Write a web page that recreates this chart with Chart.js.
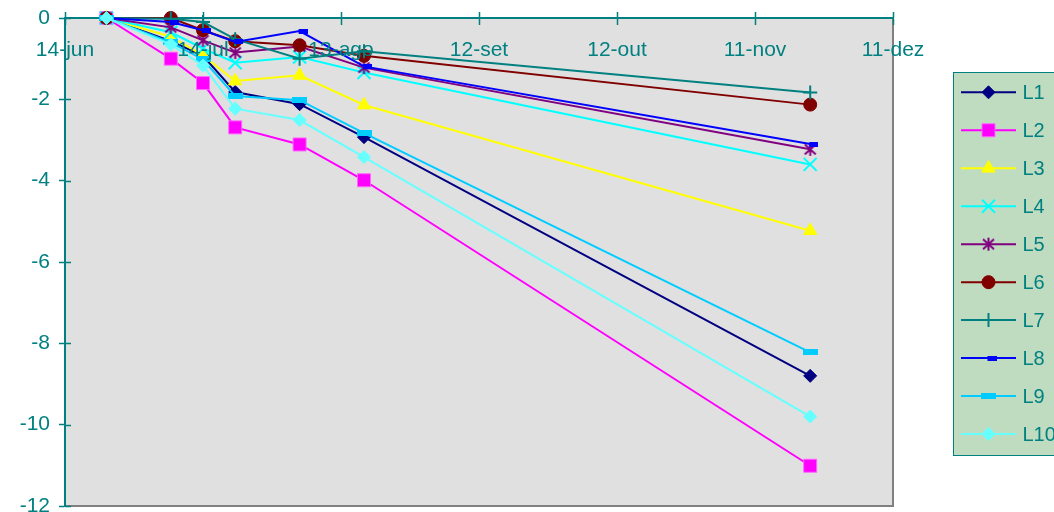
<!DOCTYPE html>
<html>
<head>
<meta charset="utf-8">
<script src="https://cdn.jsdelivr.net/npm/chart.js@4/dist/chart.umd.min.js"></script>
<style>
  html, body { margin: 0; padding: 0; background: #ffffff; overflow: hidden; }
  #wrap { position: relative; width: 1054px; height: 512px; }
</style>
</head>
<body>
<div id="wrap"><canvas id="c" width="1054" height="512"></canvas></div>
<script>
// Date axis: days counted from 14-jun, one labelled tick every 30 days
const tickLabels = ['14-jun', '14-jul', '13-ago', '12-set', '12-out', '11-nov', '11-dez'];
const tickStepDays = 30;

// Sampling dates (days after 14-jun)
const sampleDay = [9, 23, 30, 37, 51, 65, 162];

const seriesNames = ['L1', 'L2', 'L3', 'L4', 'L5', 'L6', 'L7', 'L8', 'L9', 'L10'];

const L1  = [0, -0.57, -0.93, -1.82, -2.12, -2.93, -8.80];
const L2  = [0, -1.00, -1.60, -2.69, -3.11, -3.99, -11.01];
const L3  = [0, -0.46, -0.92, -1.55, -1.41, -2.14, -5.23];
const L4  = [0, -0.35, -0.75, -1.10, -0.96, -1.34, -3.60];
const L5  = [0, -0.23, -0.55, -0.85, -0.70, -1.22, -3.23];
const L6  = [0, 0.00, -0.30, -0.57, -0.67, -0.93, -2.13];
const L7  = [0, -0.02, -0.10, -0.52, -1.00, -0.82, -1.83];
const L8  = [0, -0.10, -0.30, -0.59, -0.32, -1.19, -3.10];
const L9  = [0, -0.60, -1.02, -1.92, -2.02, -2.83, -8.22];
const L10 = [0, -0.65, -1.17, -2.23, -2.51, -3.42, -9.80];

const seriesValues = [L1, L2, L3, L4, L5, L6, L7, L8, L9, L10];

const TEAL = '#008080';
const FONT = '"Liberation Sans", Arial, Helvetica, sans-serif';

// ---- custom marker images -------------------------------------------------
function asteriskMarker(color) {
  const c = document.createElement('canvas');
  c.width = 15; c.height = 15;
  const g = c.getContext('2d');
  g.strokeStyle = color; g.lineWidth = 2;
  g.beginPath();
  g.moveTo(7.5, 1); g.lineTo(7.5, 14);
  g.moveTo(2, 2.5); g.lineTo(13, 12.5);
  g.moveTo(13, 2.5); g.lineTo(2, 12.5);
  g.stroke();
  return c;
}
function barMarker(color, w, h, shift) {
  const c = document.createElement('canvas');
  c.width = Math.ceil(2 * (Math.abs(shift) + w / 2));
  c.height = h;
  const g = c.getContext('2d');
  g.fillStyle = color;
  g.fillRect(c.width / 2 + shift - w / 2, 0, w, h);
  return c;
}

// ---- series styles ----------------------------------------------------------
const styles = [
  { color: '#000080', fill: '#000080', point: 'rectRot',  radius: 6.5, bw: 1 },
  { color: '#FF00FF', fill: '#FF00FF', point: 'rect',     radius: 9.2, bw: 1, pointBorder: '#FF66FF' },
  { color: '#FFFF00', fill: '#FFFF00', point: 'triangle', radius: 7.7, bw: 1 },
  { color: '#00FFFF', fill: '#00FFFF', point: 'crossRot', radius: 9.2, bw: 2 },
  { color: '#800080', fill: '#800080', point: asteriskMarker('#800080'), radius: 7, bw: 1 },
  { color: '#800000', fill: '#800000', point: 'circle',   radius: 6.5, bw: 1 },
  { color: '#008080', fill: '#008080', point: 'cross',    radius: 7,   bw: 2 },
  { color: '#0000FF', fill: '#0000FF', point: barMarker('#0000FF', 9, 5, 3.5), radius: 6, bw: 1 },
  { color: '#00CCFF', fill: '#00CCFF', point: barMarker('#00CCFF', 15, 6, 0), radius: 6, bw: 1 },
  { color: '#66FFFF', fill: '#66FFFF', point: 'rectRot',  radius: 6.5, bw: 1 }
];

const datasets = seriesNames.map((name, i) => ({
  label: name,
  data: sampleDay.map((d, k) => ({ x: d, y: seriesValues[i][k] })),
  borderColor: styles[i].color,
  backgroundColor: styles[i].fill,
  borderWidth: 2,
  tension: 0,
  pointStyle: styles[i].point,
  pointRadius: styles[i].radius,
  pointHoverRadius: styles[i].radius,
  pointBorderWidth: styles[i].bw,
  pointBackgroundColor: styles[i].fill,
  pointBorderColor: styles[i].pointBorder || styles[i].color,
  clip: false,
  order: seriesNames.length - 1 - i
}));

// ---- plugins ----------------------------------------------------------------
const plotFrame = {
  id: 'plotFrame',
  beforeDraw(chart) {
    const { ctx, chartArea: a } = chart;
    ctx.save();
    ctx.fillStyle = '#E0E0E0';
    ctx.fillRect(a.left, a.top, a.right - a.left, a.bottom - a.top);
    ctx.strokeStyle = '#808080';
    ctx.lineWidth = 2;
    ctx.beginPath();
    ctx.moveTo(a.left, a.bottom); ctx.lineTo(a.right, a.bottom); ctx.lineTo(a.right, a.top);
    ctx.stroke();
    ctx.restore();
  }
};

// the other half of each tick mark, so ticks cross the axis lines
const crossTicks = {
  id: 'crossTicks',
  beforeDatasetsDraw(chart) {
    const { ctx, chartArea: a, scales } = chart;
    ctx.save();
    ctx.strokeStyle = TEAL;
    ctx.lineWidth = 1.5;
    ctx.beginPath();
    scales.x.ticks.forEach(t => {
      const px = Math.round(scales.x.getPixelForValue(t.value)) + 0.5;
      ctx.moveTo(px, a.top - 6); ctx.lineTo(px, a.top);
    });
    scales.y.ticks.forEach(t => {
      const py = Math.round(scales.y.getPixelForValue(t.value)) + 0.5;
      ctx.moveTo(a.left, py); ctx.lineTo(a.left + 6, py);
    });
    ctx.stroke();
    ctx.restore();
  }
};

const sideLegend = {
  id: 'sideLegend',
  afterDraw(chart) {
    const ctx = chart.ctx;
    const box = { x: 953.5, y: 72.5, w: 115, h: 383 };
    ctx.save();
    ctx.fillStyle = '#C0DCC0';
    ctx.fillRect(box.x, box.y, box.w, box.h);
    ctx.strokeStyle = TEAL;
    ctx.lineWidth = 1;
    ctx.strokeRect(box.x, box.y, box.w, box.h);
    const step = 37.97;
    chart.data.datasets.forEach((ds, i) => {
      const y = 92.3 + i * step;
      ctx.strokeStyle = ds.borderColor;
      ctx.lineWidth = 2;
      ctx.beginPath();
      ctx.moveTo(961, y); ctx.lineTo(1016, y);
      ctx.stroke();
      ctx.fillStyle = ds.pointBackgroundColor;
      ctx.strokeStyle = ds.pointBorderColor;
      ctx.lineWidth = ds.pointBorderWidth;
      Chart.helpers.drawPoint(ctx, { pointStyle: ds.pointStyle, radius: ds.pointRadius, borderWidth: ds.pointBorderWidth, rotation: 0 }, 988.5, y);
      ctx.fillStyle = TEAL;
      ctx.font = '20px ' + FONT;
      ctx.textAlign = 'left';
      ctx.textBaseline = 'middle';
      ctx.fillText(ds.label, 1022.5, y + 1);
    });
    ctx.restore();
  }
};

new Chart(document.getElementById('c'), {
  type: 'line',
  data: { datasets },
  plugins: [plotFrame, crossTicks, sideLegend],
  options: {
    responsive: false,
    animation: false,
    events: [],
    layout: { autoPadding: false, padding: { top: 18, bottom: 6, left: 0, right: 161 } },
    plugins: { legend: { display: false }, tooltip: { enabled: false } },
    scales: {
      x: {
        type: 'linear',
        min: 0,
        max: tickStepDays * (tickLabels.length - 1),
        position: { y: 0 },
        grid: { drawOnChartArea: false, drawTicks: true, tickLength: 6, color: TEAL, tickWidth: 1.5 },
        border: { color: TEAL, width: 2 },
        ticks: {
          stepSize: tickStepDays,
          autoSkip: false,
          maxRotation: 0,
          padding: 14,
          z: 1,
          color: TEAL,
          font: { family: FONT, size: 21 },
          callback: v => tickLabels[Math.round(v / tickStepDays)]
        },
        afterFit: s => { s.paddingLeft = 0; s.paddingRight = 0; }
      },
      y: {
        type: 'linear',
        min: -12,
        max: 0,
        position: 'left',
        grid: { drawOnChartArea: false, drawTicks: true, tickLength: 6, color: TEAL, tickWidth: 1.5 },
        border: { color: TEAL, width: 2 },
        ticks: {
          stepSize: 2,
          padding: 9,
          color: TEAL,
          font: { family: FONT, size: 21, lineHeight: 0.5 }
        },
        afterFit: s => { s.width = 65; s.paddingTop = 0; s.paddingBottom = 0; }
      }
    }
  }
});
</script>
</body>
</html>
